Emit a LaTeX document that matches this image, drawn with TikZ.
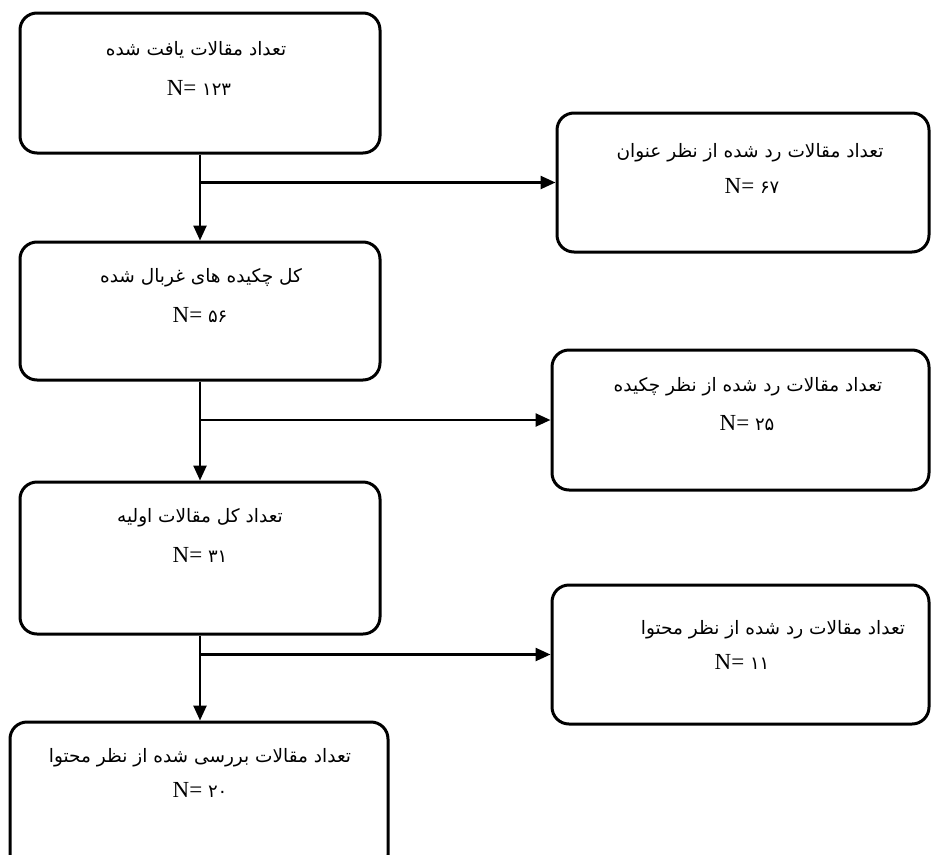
\documentclass[tikz,border=0pt]{standalone}
\usepackage{fontspec}
\setmainfont{Liberation Serif}
\newfontfamily\arabicfont[Script=Arabic]{DejaVu Sans}
\TeXXeTstate=1
\usetikzlibrary{arrows.meta}
\newcommand{\pdig}[1]{{\arabicfont\fontsize{18}{22}\selectfont #1}}
\begin{document}
\begin{tikzpicture}[x=1pt,y=-1pt,
  box/.style={draw=black, line width=3pt, rounded corners=17pt, inner sep=0pt},
  ar/.style={inner sep=0pt, font=\arabicfont\fontsize{18.5}{22}\selectfont},
  nn/.style={inner sep=0pt, font=\fontsize{23}{26}\selectfont},
  arr/.style={line width=2.5pt, -{Triangle[length=15pt,width=13pt]}}]
\useasboundingbox (0,0) rectangle (931,854);
\clip (0,0) rectangle (931,854);
% boxes
\node[box, minimum width=360pt, minimum height=140pt] (b1) at (200,83) {};
\node[box, minimum width=372pt, minimum height=139pt] (b2) at (743,182.5) {};
\node[box, minimum width=360pt, minimum height=138pt] (b3) at (200,311) {};
\node[box, minimum width=377pt, minimum height=140pt] (b4) at (740.5,420) {};
\node[box, minimum width=360pt, minimum height=152pt] (b5) at (200,558) {};
\node[box, minimum width=377pt, minimum height=139pt] (b6) at (740.5,654.5) {};
\node[box, minimum width=378pt, minimum height=150pt] (b7) at (199,797) {};
% texts
\node[ar] (t1) at (196,50) {\beginR تعداد مقالات یافت شده\endR};
\node[nn] (n1) at (199,88) {N= \pdig{۱۲۳}};
\node[ar] (t2) at (750,153) {\beginR تعداد مقالات رد شده از نظر عنوان\endR};
\node[nn] (n2) at (752,186) {N= \pdig{۶۷}};
\node[ar] (t3) at (201,278) {\beginR کل چکیده های غربال شده\endR};
\node[nn] (n3) at (200,315) {N= \pdig{۵۶}};
\node[ar] (t4) at (748,387) {\beginR تعداد مقالات رد شده از نظر چکیده\endR};
\node[nn] (n4) at (747,423) {N= \pdig{۲۵}};
\node[ar] (t5) at (200,518) {\beginR تعداد کل مقالات اولیه\endR};
\node[nn] (n5) at (200,555) {N= \pdig{۳۱}};
\node[ar] (t6) at (773,630) {\beginR تعداد مقالات رد شده از نظر محتوا\endR};
\node[nn] (n6) at (742,662) {N= \pdig{۱۱}};
\node[ar] (t7) at (200,758) {\beginR تعداد مقالات بررسی شده از نظر محتوا\endR};
\node[nn] (n7) at (200,790) {N= \pdig{۲۰}};
% connectors
\coordinate (j1) at (b1.south |- b2.west);
\coordinate (j2) at (b3.south |- b4.west);
\coordinate (j3) at (b5.south |- b6.west);
\draw[arr] (b1.south) -- (b3.north);
\draw[arr] (j1) -- (b2.west);
\draw[arr] (b3.south) -- (b5.north);
\draw[arr] (j2) -- (b4.west);
\draw[arr] (b5.south) -- (b5.south |- b7.north);
\draw[arr] (j3) -- (b6.west);
\end{tikzpicture}
\end{document}
